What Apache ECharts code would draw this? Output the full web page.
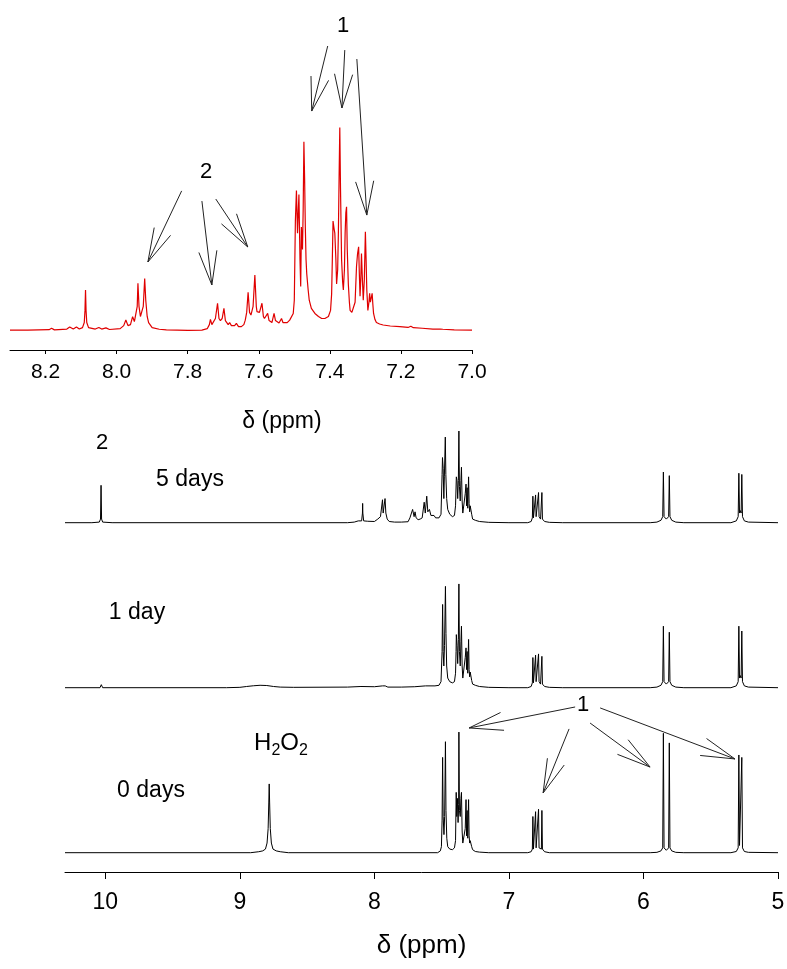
<!DOCTYPE html>
<html>
<head>
<meta charset="utf-8">
<script src="https://cdn.jsdelivr.net/npm/echarts@6/dist/echarts.min.js"></script>
<style>
  html, body { margin: 0; padding: 0; background: #fff; }
  #chart { width: 787px; height: 969px; }
</style>
</head>
<body>
<div id="chart"></div>
<script>
// ---- chemical-shift axes (ppm) ----
const zoomRange = [7.0, 8.3];
const zoomTicks = [7.0, 7.2, 7.4, 7.6, 7.8, 8.0, 8.2];
const fullRange = [5.0, 10.3];
const fullTicks = [5, 6, 7, 8, 9, 10];
const axisTitle = 'δ (ppm)';
const spectrumLabels = ['5 days', '1 day', '0 days'];

// ---- spectra: [ppm, intensity] ----
// expanded aromatic region after 5 days
const zoomSpectrum = [
  [8.30,0.3],[8.25,0.3],[8.19,0.5],[8.183,1.2],[8.175,0.4],[8.14,0.8],[8.132,1.8],[8.122,0.8],[8.113,1.8],[8.105,0.8],
  [8.096,1.5],[8.091,4],[8.089,10],[8.0875,20],[8.086,10],[8.084,4],[8.079,1.5],
  [8.06,0.8],[8.050,1.6],[8.042,0.8],[8.030,1.4],[8.02,0.6],[7.99,1],
  [7.980,2.5],[7.974,5.3],[7.968,2.5],[7.961,3],[7.955,6.9],[7.950,4.5],[7.945,4.4],[7.942,12],[7.940,23.3],[7.937,12],
  [7.933,7],[7.931,7],[7.925,12],[7.921,25.7],[7.918,15],[7.914,7],[7.910,4],[7.900,1.5],[7.88,0.7],[7.86,0.4],
  [7.80,0.2],[7.76,0.3],[7.745,1],[7.739,3],[7.736,5.6],[7.732,3],[7.728,3],[7.722,6],[7.716,13.5],[7.712,6],[7.708,5],
  [7.703,6],[7.698,11],[7.694,5],[7.691,4.4],[7.686,3],[7.682,4],[7.677,2.5],[7.673,2],[7.668,2.5],[7.663,3.6],[7.657,2],
  [7.649,2],[7.642,3],[7.638,5.2],[7.634,9],[7.630,18.9],[7.626,9],[7.622,7.7],[7.616,12],[7.611,27.4],[7.607,12],
  [7.605,9.4],[7.598,9],[7.591,13.5],[7.587,7],[7.584,6],[7.579,6],[7.575,8.5],[7.571,5],[7.569,4.4],[7.563,4],
  [7.557,8.5],[7.553,5],[7.549,4.1],[7.543,3.8],[7.536,6],[7.532,4],[7.527,3.6],[7.520,4],[7.513,5.2],[7.508,5.5],
  [7.503,8.5],[7.500,15],[7.497,54],[7.494,69],[7.491,48],[7.487,67],[7.484,35],[7.482,21.7],[7.480,51],[7.477,40],
  [7.475,60],[7.473,93],[7.471,75],[7.469,51],[7.467,35],[7.465,28],[7.461,20],[7.458,15],[7.452,11],[7.442,8.5],
  [7.432,7],[7.423,6],[7.414,6],[7.404,7],[7.398,10],[7.395,18],[7.393,35],[7.391,54],[7.388,50],[7.386,48],
  [7.383,35],[7.381,23],[7.378,30],[7.376,48],[7.374,75],[7.372,100],[7.370,70],[7.367,35],[7.364,24],[7.362,20],
  [7.359,30],[7.357,48],[7.355,58],[7.353,61],[7.351,40],[7.348,23],[7.345,14],[7.343,10],[7.338,9],[7.334,9.4],
  [7.329,14],[7.325,31.5],[7.322,38],[7.319,41.3],[7.317,28],[7.315,17],[7.313,25],[7.311,38],[7.309,28],[7.306,15],
  [7.303,25],[7.300,48.7],[7.298,35],[7.296,20],[7.293,10],[7.290,14],[7.288,18.4],[7.286,14],[7.284,14],[7.281,18.4],
  [7.279,13],[7.277,8.5],[7.273,5.5],[7.269,4],[7.260,3.3],[7.250,2.8],[7.23,2.3],[7.203,2],[7.18,1.6],[7.172,2.2],
  [7.165,1.5],[7.14,1.2],[7.11,0.8],[7.09,0.8],[7.087,1.4],[7.082,0.7],[7.05,0.4],[7.00,0.3]
];

const spectrum5d = [
  [10.30,0],[10.10,0],[10.045,0.5],[10.036,3],[10.032,31],[10.028,3],[10.02,0.5],[9.95,0],
  [8.20,0],[8.15,0.5],[8.12,1.5],[8.095,1.5],[8.089,8],[8.0875,16],[8.086,8],[8.08,1.5],[8.05,1.2],[8.00,1],
  [7.975,3],[7.955,5],[7.945,6],[7.940,19],[7.935,8],[7.925,9],[7.921,20],[7.915,8],[7.905,3],[7.89,1],[7.85,0.5],
  [7.80,0.5],[7.75,0.8],[7.736,4],[7.730,3],[7.716,11],[7.705,5],[7.698,9],[7.69,4],[7.675,2.5],[7.66,3],[7.645,4],
  [7.630,17],[7.622,8],[7.611,22],[7.603,9],[7.591,11],[7.58,6],[7.575,7],[7.557,6],[7.545,4],[7.536,5],[7.52,4],
  [7.505,7],[7.497,40],[7.494,54],[7.489,45],[7.484,20],[7.480,38],[7.473,71],[7.469,40],[7.463,20],[7.455,11],
  [7.44,7],[7.42,5],[7.405,6],[7.397,14],[7.391,38],[7.386,35],[7.381,20],[7.376,35],[7.372,76],[7.368,30],
  [7.362,18],[7.357,35],[7.353,46],[7.348,18],[7.343,8],[7.334,8],[7.325,24],[7.319,32],[7.315,14],[7.311,29],
  [7.306,12],[7.300,38],[7.296,16],[7.292,9],[7.288,14],[7.283,14],[7.277,7],[7.27,3],[7.25,2],[7.22,1],[7.15,0.3],
  [7.00,0],[6.86,0],[6.835,1],[6.826,4],[6.822,22],[6.818,4],[6.810,4],[6.806,5],[6.802,23],[6.798,5],[6.788,5],
  [6.784,6],[6.780,25],[6.776,5],[6.765,3],[6.759,4],[6.755,25],[6.751,3],[6.735,1],[6.70,0.3],[6.60,0],
  [5.95,0],[5.90,0.5],[5.87,2],[5.857,5],[5.852,42],[5.847,5],[5.830,3],[5.813,5],[5.808,39],[5.803,5],[5.79,2],
  [5.76,0.5],[5.70,0],[5.35,0],[5.31,1.5],[5.296,5],[5.291,41],[5.286,8],[5.280,10],[5.274,8],[5.269,40],[5.264,5],
  [5.25,1.5],[5.22,0.5],[5.00,0]
];

const spectrum1d = [
  [10.30,0],[10.04,0],[10.033,1],[10.030,2.5],[10.027,1],[10.02,0],[9.10,0],[9.0,0.3],[8.95,1],[8.90,1.6],[8.85,2],
  [8.80,1.8],[8.75,1],[8.70,0.5],[8.60,0.3],[8.20,0.5],[8.10,1],[8.09,1.5],[8.00,0.8],[7.94,1.5],[7.92,1.5],
  [7.90,0.5],[7.80,0.5],[7.70,0.8],[7.62,1.5],[7.55,1.5],[7.52,2],[7.505,5],[7.497,30],[7.493,69],[7.489,30],
  [7.484,18],[7.479,35],[7.472,84],[7.468,45],[7.463,18],[7.455,8],[7.44,5],[7.42,4],[7.405,5],[7.397,12],[7.393,30],
  [7.391,44],[7.386,35],[7.381,20],[7.376,40],[7.372,86],[7.368,30],[7.362,18],[7.357,38],[7.353,51],[7.348,18],
  [7.343,8],[7.334,8],[7.325,25],[7.319,33],[7.315,15],[7.311,30],[7.306,12],[7.300,40],[7.296,15],[7.292,9],
  [7.288,13],[7.283,12],[7.277,6],[7.27,3],[7.25,2],[7.22,1],[7.15,0.3],[7.00,0],
  [6.86,0],[6.835,1],[6.826,4],[6.822,25],[6.818,4],[6.810,4],[6.806,5],[6.802,27],[6.798,5],[6.788,5],[6.784,6],
  [6.780,28],[6.776,5],[6.765,3],[6.759,4],[6.755,26],[6.751,3],[6.735,1],[6.70,0.3],[6.60,0],
  [5.95,0],[5.90,0.5],[5.87,2],[5.857,5],[5.852,51],[5.847,5],[5.830,3],[5.813,5],[5.808,46],[5.803,5],[5.79,2],
  [5.76,0.5],[5.70,0],[5.35,0],[5.31,1.5],[5.296,5],[5.291,51],[5.286,8],[5.280,10],[5.274,8],[5.269,47],[5.264,5],
  [5.25,1.5],[5.22,0.5],[5.00,0]
];

const spectrum0d = [
  [10.30,0],[8.92,0],[8.86,0.8],[8.83,1.5],[8.81,3],[8.798,8],[8.790,20],[8.785,42],[8.782,57],[8.779,42],[8.774,20],
  [8.766,8],[8.754,3],[8.73,1.5],[8.70,0.8],[8.64,0],
  [7.53,0],[7.51,1.5],[7.502,5],[7.497,27],[7.493,79],[7.489,30],[7.483,15],[7.478,30],[7.472,92],[7.468,35],
  [7.462,12],[7.455,5],[7.44,3],[7.42,2.5],[7.405,4],[7.397,10],[7.392,50],[7.388,30],[7.383,45],[7.378,25],
  [7.374,40],[7.372,100],[7.368,35],[7.362,30],[7.357,45],[7.353,50],[7.348,18],[7.343,8],[7.334,8],[7.325,20],
  [7.319,44],[7.315,14],[7.311,35],[7.306,12],[7.300,44],[7.296,14],[7.292,8],[7.288,10],[7.283,10],[7.277,5],
  [7.27,2.5],[7.25,1],[7.22,0.5],[7.15,0],
  [6.86,0],[6.835,0.8],[6.826,3],[6.822,30],[6.818,3],[6.810,3],[6.806,4],[6.802,34],[6.798,4],[6.788,4],[6.784,5],
  [6.780,36],[6.776,4],[6.765,3],[6.759,3],[6.755,35],[6.751,3],[6.735,0.8],[6.70,0],
  [5.95,0],[5.90,0.3],[5.87,1.5],[5.857,4],[5.852,99],[5.847,4],[5.830,2],[5.813,4],[5.808,91],[5.803,4],[5.79,1.5],
  [5.76,0.3],[5.70,0],[5.35,0],[5.31,1],[5.296,4],[5.291,81],[5.286,6],[5.280,7],[5.274,6],[5.269,79],[5.264,4],
  [5.25,1],[5.22,0.3],[5.00,0]
];

// ---- assignment arrows: [tailPpm, tailIntensity, tipPpm, tipIntensity] ----
const zoomArrowsProduct = [   // "2"
  [7.817, 68.8, 7.912, 33.8],
  [7.760, 63.8, 7.732, 22.5],
  [7.721, 64.8, 7.631, 41.2]
];
const zoomArrowsStyrene = [   // "1"
  [7.406, 140.1, 7.451, 108.1],
  [7.358, 138.1, 7.366, 109.6],
  [7.324, 133.7, 7.296, 56.9]
];
const arrows0d = [            // "1"
  [6.508, 120.8, 7.296, 103.4],
  [6.553, 102.6, 6.746, 49.5],
  [6.397, 107.5, 5.951, 71.0],
  [6.322, 120.0, 5.320, 77.7]
];

// ---- chart ----
const FONT = '"Liberation Sans", Arial, Helvetica, sans-serif';
const chart = echarts.init(document.getElementById('chart'), null, { renderer: 'canvas' });

const zoomY = [-9.5, 115.5];
const stackY = [-16, 110];

const hiddenX = (gi) => ({
  gridIndex: gi, type: 'value', min: fullRange[0], max: fullRange[1], inverse: true, show: false
});
const hiddenY = (gi, r) => ({
  gridIndex: gi, type: 'value', min: r[0], max: r[1], show: false
});
const trace = (idx, data, color, width) => ({
  type: 'line', xAxisIndex: idx, yAxisIndex: idx, data: data,
  symbol: 'none', showSymbol: false, silent: true, animation: false,
  lineStyle: { color: color, width: width }
});

chart.setOption({
  animation: false,
  backgroundColor: '#fff',
  grid: [
    { left: 10, width: 462, top: 96, height: 254, outerBoundsMode: 'none' },
    { left: 65, width: 713, top: 390, height: 152, outerBoundsMode: 'none' },
    { left: 65, width: 713, top: 555, height: 152, outerBoundsMode: 'none' },
    { left: 65, width: 713, top: 720, height: 152, outerBoundsMode: 'none' }
  ],
  xAxis: [
    {
      gridIndex: 0, type: 'value', min: zoomRange[0], max: zoomRange[1], inverse: true,
      axisLine: { show: true, onZero: false, lineStyle: { color: '#000', width: 1 } },
      axisTick: { show: true, inside: false, length: 4, customValues: zoomTicks, lineStyle: { color: '#000' } },
      axisLabel: { customValues: zoomTicks, formatter: v => v.toFixed(1), fontSize: 21, color: '#000', fontFamily: FONT, margin: 12 },
      splitLine: { show: false }
    },
    hiddenX(1),
    hiddenX(2),
    {
      gridIndex: 3, type: 'value', min: fullRange[0], max: fullRange[1], inverse: true,
      axisLine: { show: true, onZero: false, lineStyle: { color: '#000', width: 1 } },
      axisTick: { show: true, inside: false, length: 7, customValues: fullTicks, lineStyle: { color: '#000' } },
      axisLabel: { customValues: fullTicks, formatter: v => String(v), fontSize: 23, color: '#000', fontFamily: FONT, margin: 19 },
      splitLine: { show: false },
      name: axisTitle, nameLocation: 'middle', nameGap: 61,
      nameTextStyle: { fontSize: 26, color: '#000', fontFamily: FONT }
    }
  ],
  yAxis: [hiddenY(0, zoomY), hiddenY(1, stackY), hiddenY(2, stackY), hiddenY(3, stackY)],
  series: [
    trace(0, zoomSpectrum, '#e00000', 1.2),
    trace(1, spectrum5d, '#000', 1),
    trace(2, spectrum1d, '#000', 1),
    trace(3, spectrum0d, '#000', 1)
  ]
});

// ---- annotations ----
function toPx(gi, p) { return chart.convertToPixel({ gridIndex: gi }, p); }

function arrow(gi, a) {
  const tail = toPx(gi, [a[0], a[1]]);
  const tip = toPx(gi, [a[2], a[3]]);
  const dx = tail[0] - tip[0], dy = tail[1] - tip[1];
  const d = Math.hypot(dx, dy), ux = dx / d, uy = dy / d;
  const L = 35, ang = 15 * Math.PI / 180;
  const wing = s => [
    tip[0] + L * (ux * Math.cos(s * ang) - uy * Math.sin(s * ang)),
    tip[1] + L * (ux * Math.sin(s * ang) + uy * Math.cos(s * ang))
  ];
  const st = { stroke: '#222', lineWidth: 1, fill: 'none' };
  return [
    { type: 'polyline', silent: true, shape: { points: [tail, tip] }, style: st },
    { type: 'polyline', silent: true, shape: { points: [wing(1), tip, wing(-1)] }, style: st }
  ];
}

function label(str, x, y, size) {
  return {
    type: 'text', x: x, y: y, silent: true,
    style: {
      text: str, font: size + 'px ' + FONT, fill: '#000',
      align: 'center', verticalAlign: 'middle', textAlign: 'center', textVerticalAlign: 'middle'
    }
  };
}

const els = [];
zoomArrowsProduct.forEach(a => els.push(...arrow(0, a)));
zoomArrowsStyrene.forEach(a => els.push(...arrow(0, a)));
arrows0d.forEach(a => els.push(...arrow(3, a)));

els.push(label('2', 206, 172, 22));
els.push(label('1', 343, 26, 22));
els.push(label(axisTitle, 282, 422, 23));
els.push(label('2', 102, 443, 22));
els.push(label(spectrumLabels[0], 190, 480, 23));
els.push(label(spectrumLabels[1], 137, 613, 23));
els.push(label(spectrumLabels[2], 151, 791, 23));
els.push(label('1', 583, 705, 22));
els.push({
  type: 'text', x: 281, y: 743, silent: true,
  style: {
    text: '{m|H}{s|2}{m|O}{s|2}', fill: '#000',
    align: 'center', verticalAlign: 'middle', textAlign: 'center', textVerticalAlign: 'middle',
    rich: {
      m: { font: '24px ' + FONT, lineHeight: 32, verticalAlign: 'middle', fill: '#000' },
      s: { font: '16px ' + FONT, lineHeight: 15, verticalAlign: 'bottom', fill: '#000' }
    }
  }
});

chart.setOption({ graphic: { elements: els } });
</script>
</body>
</html>
